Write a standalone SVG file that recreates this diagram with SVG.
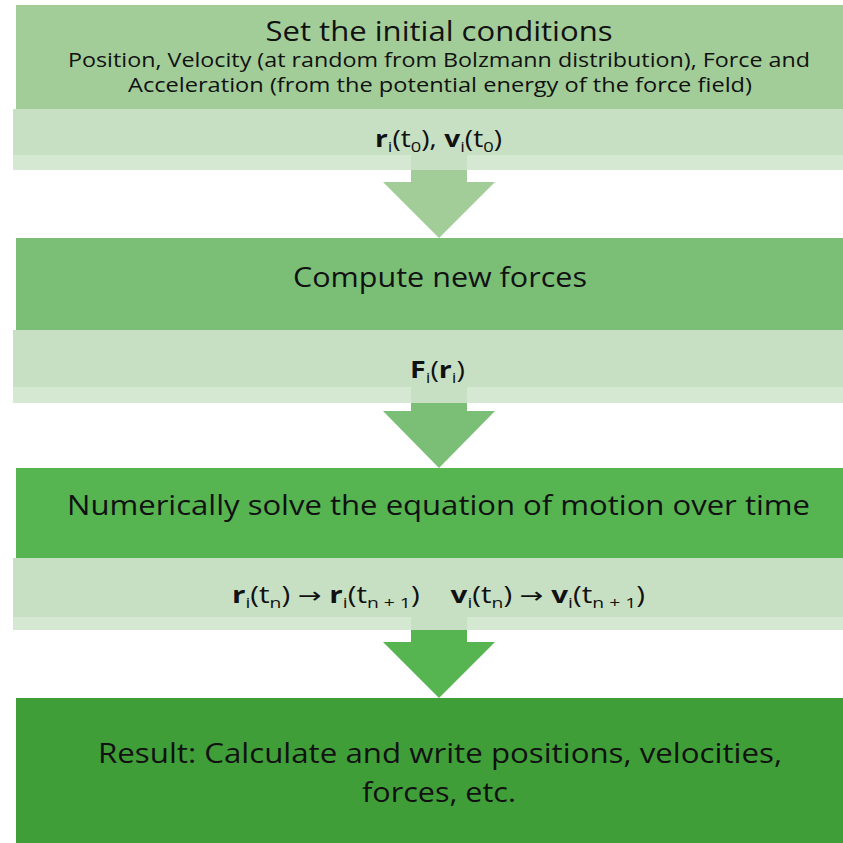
<svg xmlns="http://www.w3.org/2000/svg" width="843" height="843" viewBox="0 0 843 843">
  <style>
    text { font-family: "Open Sans", "Liberation Sans", "DejaVu Sans", sans-serif; fill: #111; text-anchor: middle; }
    .title { font-size: 27px; }
    .sub { font-size: 20px; }
    .eq { font-size: 23px; }
    .b { font-weight: bold; }
    .s { font-size: 15px; }
    .arr { font-family: "DejaVu Sans", sans-serif; font-size: 22px; }
    .band { fill: #c7e0c3; }
    .strip { fill: #d5e8d2; }
  </style>

  <rect x="0" y="0" width="843" height="843" fill="#ffffff"/>

  <!-- Step 1: initial conditions -->
  <g id="node-initial">
    <rect x="16" y="5" width="827" height="104" fill="#a2cd98"/>
    <rect class="band" x="13" y="109" width="830" height="46"/>
    <rect class="strip" x="13" y="155" width="830" height="15"/>
    <text class="title" x="439" y="41" textLength="347" lengthAdjust="spacingAndGlyphs">Set the initial conditions</text>
    <text class="sub" x="439" y="67" textLength="742" lengthAdjust="spacingAndGlyphs">Position, Velocity (at random from Bolzmann distribution), Force and</text>
    <text class="sub" x="440" y="92" textLength="624" lengthAdjust="spacingAndGlyphs">Acceleration (from the potential energy of the force field)</text>
    <text class="eq" x="438.5" y="147" textLength="127" lengthAdjust="spacingAndGlyphs"><tspan class="b">r</tspan><tspan class="s" dy="5">i</tspan><tspan dy="-5">(t</tspan><tspan class="s" dy="5">0</tspan><tspan dy="-5">), </tspan><tspan class="b">v</tspan><tspan class="s" dy="5">i</tspan><tspan dy="-5">(t</tspan><tspan class="s" dy="5">0</tspan><tspan dy="-5">)</tspan></text>
  </g>

  <!-- Step 2: force evaluation -->
  <g id="node-forces">
    <rect x="16" y="238" width="827" height="92" fill="#7bbf77"/>
    <rect class="band" x="13" y="330" width="830" height="57"/>
    <rect class="strip" x="13" y="387" width="830" height="16"/>
    <text class="title" x="440" y="287" textLength="294" lengthAdjust="spacingAndGlyphs">Compute new forces</text>
    <text class="eq" x="437.5" y="378" textLength="55" lengthAdjust="spacingAndGlyphs"><tspan class="b">F</tspan><tspan class="s" dy="5">i</tspan><tspan dy="-5">(</tspan><tspan class="b">r</tspan><tspan class="s" dy="5">i</tspan><tspan dy="-5">)</tspan></text>
  </g>

  <!-- Step 3: integration -->
  <g id="node-integrate">
    <rect x="16" y="468" width="827" height="90" fill="#56b451"/>
    <rect class="band" x="13" y="558" width="830" height="59"/>
    <rect class="strip" x="13" y="617" width="830" height="13"/>
    <text class="title" x="438.5" y="515" textLength="743" lengthAdjust="spacingAndGlyphs">Numerically solve the equation of motion over time</text>
    <text class="eq" x="438.5" y="603" textLength="413" lengthAdjust="spacingAndGlyphs"><tspan class="b">r</tspan><tspan class="s" dy="5">i</tspan><tspan dy="-5">(t</tspan><tspan class="s" dy="5">n</tspan><tspan dy="-5">) </tspan><tspan class="arr">→</tspan><tspan> </tspan><tspan class="b">r</tspan><tspan class="s" dy="5">i</tspan><tspan dy="-5">(t</tspan><tspan class="s" dy="5">n + 1</tspan><tspan dy="-5">)</tspan><tspan class="b" dx="24">v</tspan><tspan class="s" dy="5">i</tspan><tspan dy="-5">(t</tspan><tspan class="s" dy="5">n</tspan><tspan dy="-5">) </tspan><tspan class="arr">→</tspan><tspan> </tspan><tspan class="b">v</tspan><tspan class="s" dy="5">i</tspan><tspan dy="-5">(t</tspan><tspan class="s" dy="5">n + 1</tspan><tspan dy="-5">)</tspan></text>
  </g>

  <!-- Step 4: output -->
  <g id="node-result">
    <rect x="16" y="698" width="827" height="145" fill="#409e38"/>
    <text class="title" x="440" y="763" textLength="684" lengthAdjust="spacingAndGlyphs">Result: Calculate and write positions, velocities,</text>
    <text class="title" x="439" y="802" textLength="154" lengthAdjust="spacingAndGlyphs">forces, etc.</text>
  </g>

  <!-- Block arrows between steps -->
  <g id="connectors">
    <rect class="band" x="411" y="155" width="56" height="15"/>
    <polygon points="411,170 467,170 467,182 495,182 439,238 383,182 411,182" fill="#a2cd98"/>
    <rect class="band" x="411" y="387" width="56" height="16"/>
    <polygon points="411,403 467,403 467,411 495,411 439,468 383,411 411,411" fill="#7bbf77"/>
    <rect class="band" x="411" y="617" width="56" height="13"/>
    <polygon points="411,630 467,630 467,642 495,642 439,698 383,642 411,642" fill="#56b451"/>
  </g>
</svg>
